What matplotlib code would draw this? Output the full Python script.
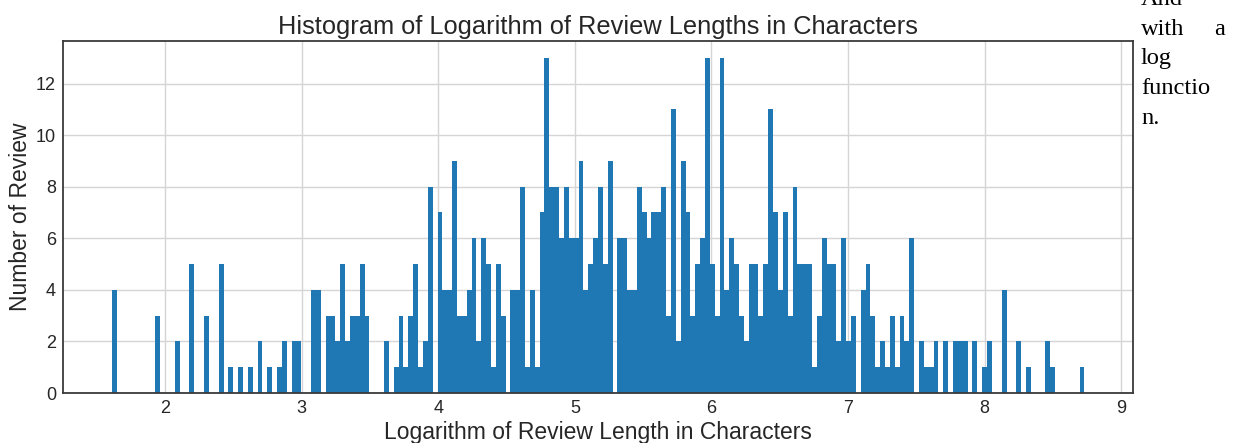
import numpy as np
import matplotlib
matplotlib.use("Agg")
import matplotlib.pyplot as plt

# Histogram of log(review length): 200 equal-width bins between ln(5) and ~8.73
log_min = 1.6094
log_max = 8.73
n_bins = 200

# Review counts per bin, left to right
counts = [
    4, 0, 0, 0, 0, 0, 0, 0, 0, 3,      # 0-9
    0, 0, 0, 2, 0, 0, 5, 0, 0, 3,      # 10-19
    0, 0, 5, 0, 1, 0, 1, 0, 1, 0,      # 20-29
    2, 0, 1, 0, 1, 2, 0, 2, 2, 0,      # 30-39
    0, 4, 4, 0, 3, 3, 2, 5, 2, 3,      # 40-49
    3, 5, 3, 0, 0, 0, 2, 0, 1, 3,      # 50-59
    1, 3, 5, 1, 2, 8, 0, 7, 4, 4,      # 60-69
    9, 3, 3, 4, 6, 2, 6, 5, 1, 5,      # 70-79
    3, 0, 4, 4, 8, 1, 4, 1, 7, 13,     # 80-89
    8, 8, 6, 8, 6, 6, 9, 4, 5, 6,      # 90-99
    8, 5, 9, 0, 6, 6, 4, 4, 8, 7,      # 100-109
    6, 7, 7, 8, 3, 11, 2, 9, 7, 3,     # 110-119
    5, 6, 13, 5, 3, 13, 4, 6, 5, 3,    # 120-129
    2, 5, 5, 3, 5, 11, 7, 4, 7, 3,     # 130-139
    8, 5, 5, 5, 1, 3, 6, 5, 5, 2,      # 140-149
    6, 2, 3, 0, 4, 5, 3, 1, 2, 1,      # 150-159
    3, 1, 3, 2, 6, 0, 2, 1, 1, 2,      # 160-169
    0, 2, 0, 2, 2, 2, 0, 2, 0, 1,      # 170-179
    2, 0, 0, 4, 0, 0, 2, 0, 1, 0,      # 180-189
    0, 0, 2, 1, 0, 0, 0, 0, 0, 1,      # 190-199
]

x_ticks = [2, 3, 4, 5, 6, 7, 8, 9]
y_ticks = [0, 2, 4, 6, 8, 10, 12]

title = "Histogram of Logarithm of Review Lengths in Characters"
x_label = "Logarithm of Review Length in Characters"
y_label = "Number of Review"
side_lines = ["And", "with", "log", "functio", "n."]

edges = np.linspace(log_min, log_max, n_bins + 1)

plt.rcParams["font.family"] = ["Liberation Sans", "DejaVu Sans"]

fig = plt.figure(figsize=(12.43, 4.43), dpi=100)
ax = fig.add_axes([63 / 1243, 1 - 393 / 443, (1133 - 63) / 1243, (393 - 41) / 443])

ax.bar(edges[:-1], counts, width=np.diff(edges), align="edge",
       color="#1f77b4", linewidth=0)

ax.margins(x=0.05, y=0.05)
ax.set_ylim(bottom=0)
ax.set_xticks(x_ticks)
ax.set_yticks(y_ticks)
ax.set_axisbelow(True)
ax.grid(True, color="#d5d5d5", linewidth=1.0)
for s in ax.spines.values():
    s.set_color("#3a3a3a")
    s.set_linewidth(1.3)
ax.tick_params(axis="both", length=0, pad=5, labelsize=13, labelcolor="#262626")

ax.set_title(title, fontsize=18.3, color="#262626", pad=5)
ax.set_xlabel(x_label, fontsize=16.5, color="#262626", labelpad=3)
ax.set_ylabel(y_label, fontsize=16.5, color="#262626", labelpad=3)

# Notebook prose wrapped beside the figure
serif = ["Liberation Serif", "DejaVu Serif"]
line_step = 29.7
base_y = 5
for i, line in enumerate(side_lines):
    y = 1 - (base_y + i * line_step) / 443
    fig.text(1141 / 1243, y, line, family=serif, fontsize=17.6,
             va="baseline", ha="left", color="black")
fig.text(1214 / 1243, 1 - (base_y + line_step) / 443, "a", family=serif,
         fontsize=17.6, va="baseline", ha="left", color="black")

fig.savefig("out.png", dpi=100)
